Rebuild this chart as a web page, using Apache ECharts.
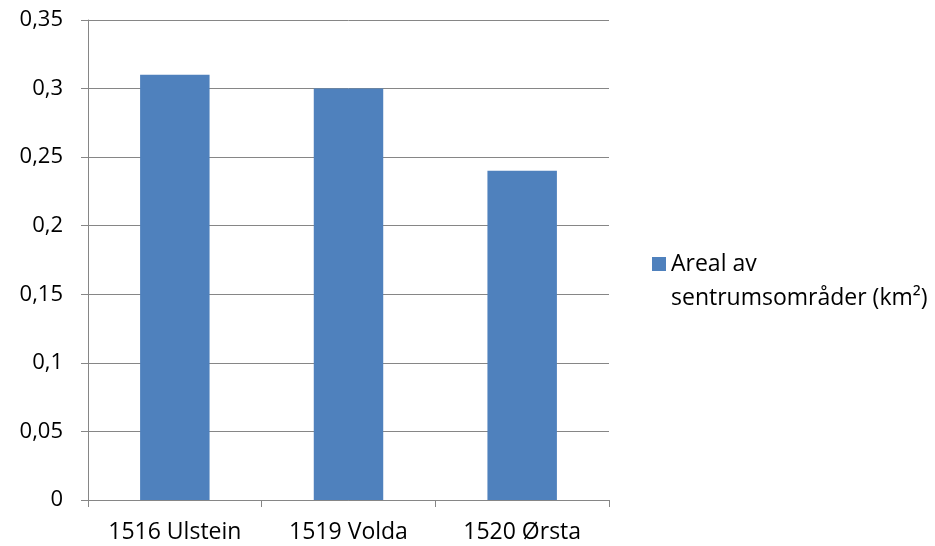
<!DOCTYPE html>
<html>
<head>
<meta charset="utf-8">
<script src="https://cdn.jsdelivr.net/npm/echarts@6/dist/echarts.min.js"></script>
<style>
html,body{margin:0;padding:0;background:#fff;}
#chart{width:935px;height:546px;}
</style>
</head>
<body>
<div id="chart"></div>
<script>
const categories = ['1516 Ulstein', '1519 Volda', '1520 Ørsta'];
const seriesName = 'Areal av\nsentrumsområder (km²)';
const values = [0.31, 0.30, 0.24];
const yTickValues = [0, 0.05, 0.1, 0.15, 0.2, 0.25, 0.3, 0.35];
const yTickLabels = ['0', '0,05', '0,1', '0,15', '0,2', '0,25', '0,3', '0,35'];

const FONT = 'Open Sans';
const chart = echarts.init(document.getElementById('chart'));
chart.setOption({
  animation: false,
  backgroundColor: '#ffffff',
  grid: { left: 88, top: 20, right: 326, bottom: 46, containLabel: false },
  legend: {
    left: 652,
    top: 213,
    padding: 0,
    orient: 'vertical',
    itemWidth: 14,
    itemHeight: 14,
    itemGap: 0,
    icon: 'rect',
    data: [{ name: seriesName, icon: 'rect' }],
    formatter: function (name) { return '\n' + name; },
    textStyle: { fontFamily: FONT, fontSize: 23, color: '#000', lineHeight: 34 }
  },
  xAxis: {
    type: 'category',
    data: categories,
    boundaryGap: true,
    axisLine: { show: true, lineStyle: { color: '#868686', width: 1 } },
    axisTick: { show: true, length: 7, alignWithLabel: false, lineStyle: { color: '#868686' } },
    axisLabel: { fontFamily: FONT, fontSize: 23, color: '#000', margin: 21 },
    splitLine: { show: false }
  },
  yAxis: {
    type: 'value',
    min: 0,
    max: 0.35,
    interval: 0.05,
    axisLine: { show: true, lineStyle: { color: '#868686', width: 1 } },
    axisTick: { show: true, length: 7, lineStyle: { color: '#868686' } },
    axisLabel: {
      fontFamily: FONT, fontSize: 22, color: '#000', margin: 25,
      formatter: function (v) {
        const i = yTickValues.findIndex(t => Math.abs(t - v) < 1e-9);
        return i >= 0 ? yTickLabels[i] : String(v).replace('.', ',');
      }
    },
    splitLine: { show: true, lineStyle: { color: '#868686', width: 1 } }
  },
  series: [{
    name: seriesName,
    type: 'bar',
    data: values,
    barWidth: '40%',
    itemStyle: { color: '#4F81BD' }
  }]
});
</script>
</body>
</html>
